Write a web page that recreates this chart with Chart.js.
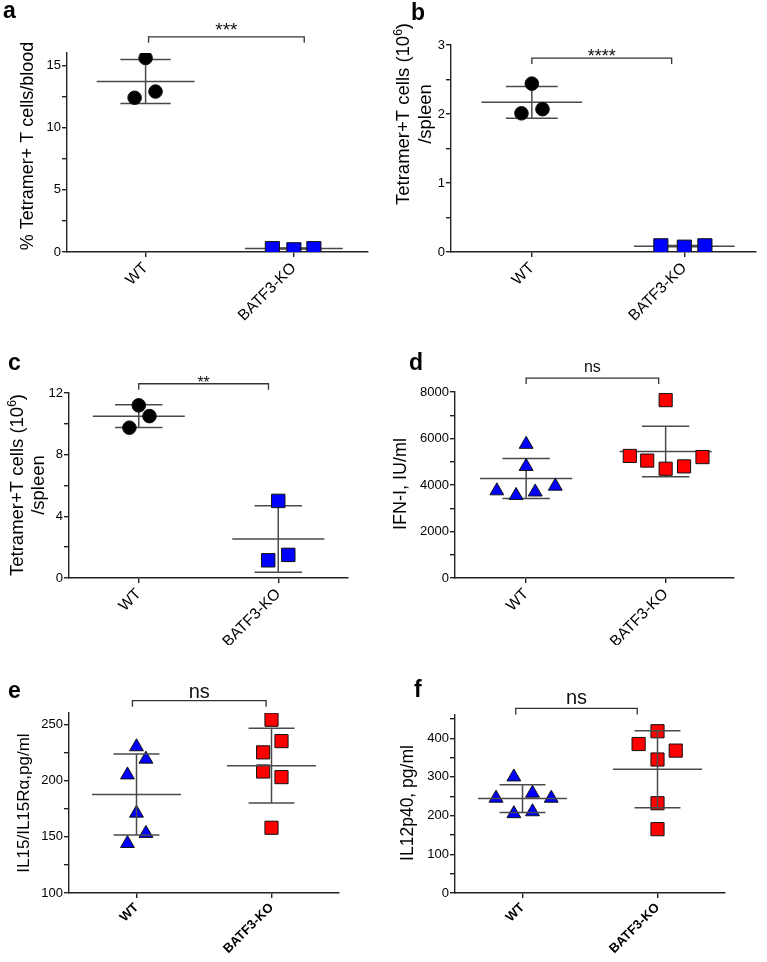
<!DOCTYPE html>
<html>
<head>
<meta charset="utf-8">
<script src="https://cdn.jsdelivr.net/npm/chart.js@4.4.0/dist/chart.umd.min.js"></script>
<style>
  body { margin: 0; background: #fff; }
  #wrap { position: relative; width: 767px; height: 962px; overflow: hidden; }
  canvas { position: absolute; }
</style>
</head>
<body>
<div id="wrap">
  <canvas id="pa" width="383" height="330" style="left:0px;top:0px"></canvas>
  <canvas id="pb" width="384" height="330" style="left:383px;top:0px"></canvas>
  <canvas id="pc" width="383" height="315" style="left:0px;top:330px"></canvas>
  <canvas id="pd" width="384" height="315" style="left:383px;top:330px"></canvas>
  <canvas id="pe" width="383" height="322" style="left:0px;top:640px"></canvas>
  <canvas id="pf" width="384" height="322" style="left:383px;top:640px"></canvas>
</div>
<script>
var groups = ['WT', 'BATF3-KO'];

// a: % tetramer+ T cells / blood
var aWT = [15.6, 12.4, 12.9];
var aWTjit = [0, -0.074, 0.067];
var aKO = [0.27, 0.18, 0.27];
var aKOjit = [-0.145, 0, 0.135];
var aMean = [13.7, 0.28];
var aSD = [1.77, 0.04];

// b: tetramer+ T cells (10^6) / spleen
var bWT = [2.44, 2.01, 2.07];
var bWTjit = [0, -0.068, 0.07];
var bKO = [0.09, 0.07, 0.09];
var bKOjit = [-0.154, 0, 0.135];
var bMean = [2.17, 0.085];
var bSD = [0.23, 0.01];

// c: tetramer+ T cells (10^6) / spleen
var cWT = [11.2, 10.5, 9.75];
var cWTjit = [0, 0.077, -0.067];
var cKO = [5.0, 1.15, 1.5];
var cKOjit = [0, -0.072, 0.072];
var cMean = [10.5, 2.53];
var cSD = [0.73, 2.15];

// d: IFN-I, IU/ml
var dWT = [5750, 4800, 3750, 3550, 3700, 3950];
var dWTjit = [0, 0, -0.21, -0.072, 0.065, 0.209];
var dKO = [7650, 5250, 5050, 4700, 4800, 5200];
var dKOjit = [0, -0.257, -0.132, 0, 0.132, 0.264];
var dMean = [4280, 5440];
var dSD = [865, 1090];

// e: IL15/IL15Ra, pg/ml
var eWT = [230, 219, 205, 171, 153, 144];
var eWTjit = [0, 0.07, -0.067, 0, 0.07, -0.067];
var eKO = [254, 235, 225, 208, 203, 158];
var eKOjit = [0, 0.074, -0.062, -0.062, 0.074, 0];
var eMean = [187.6, 213.2];
var eSD = [36, 33.2];

// f: IL12p40, pg/ml
var fWT = [300, 258, 245, 245, 205, 210];
var fWTjit = [-0.064, 0.074, -0.196, 0.213, -0.064, 0.074];
var fKO = [418, 385, 368, 345, 232, 165];
var fKOjit = [0, -0.14, 0.135, 0, 0, 0];
var fMean = [244, 320];
var fSD = [36, 99.5];

var FONT = "'Liberation Sans', Arial, Helvetica, sans-serif";
var AXIS = '#222';
var BAR = '#4a4a4a';

function pts(vals, jit, g) {
    return vals.map(function(v, i) { return { x: g + jit[i], y: v }; });
}

function line(ctx, x1, y1, x2, y2) {
    ctx.beginPath(); ctx.moveTo(x1, y1); ctx.lineTo(x2, y2); ctx.stroke();
}

function drawErrorBars(chart, o) {
    var ctx = chart.ctx, xs = chart.scales.x, ys = chart.scales.y;
    ctx.save();
    ctx.strokeStyle = BAR;
    ctx.lineWidth = 1.5;
    o.means.forEach(function(m, i) {
        var cx = xs.getPixelForValue(i);
        var hw = xs.getPixelForValue(i + 0.33) - cx;
        var sw = xs.getPixelForValue(i + 0.17) - cx;
        var ym = ys.getPixelForValue(m);
        var yt = ys.getPixelForValue(m + o.sds[i]);
        var yb = ys.getPixelForValue(m - o.sds[i]);
        line(ctx, cx, yt, cx, yb);
        line(ctx, cx - hw, ym, cx + hw, ym);
        line(ctx, cx - sw, yt, cx + sw, yt);
        line(ctx, cx - sw, yb, cx + sw, yb);
    });
    ctx.restore();
}

// error bars, significance bracket, panel letter and y title
var annot = {
    id: 'annot',
    beforeDatasetsDraw: function(chart, args, o) {
        if (!o.barsOnTop) drawErrorBars(chart, o);
    },
    afterDatasetsDraw: function(chart, args, o) {
        if (o.barsOnTop) drawErrorBars(chart, o);
    },
    afterDraw: function(chart, args, o) {
        var ctx = chart.ctx, xs = chart.scales.x, ys = chart.scales.y;
        ctx.save();
        // bracket
        var bx0 = xs.getPixelForValue(o.bracket[0]);
        var bx1 = xs.getPixelForValue(o.bracket[1]);
        var by = ys.getPixelForValue(o.bracketY);
        ctx.strokeStyle = '#333';
        ctx.lineWidth = 1.3;
        ctx.beginPath();
        ctx.moveTo(bx0, by + 6); ctx.lineTo(bx0, by); ctx.lineTo(bx1, by); ctx.lineTo(bx1, by + 6);
        ctx.stroke();
        ctx.fillStyle = '#111';
        ctx.font = o.sigSize + 'px ' + FONT;
        ctx.textAlign = 'center';
        ctx.textBaseline = 'alphabetic';
        ctx.fillText(o.sig, (bx0 + bx1) / 2, by + o.sigDy);
        // panel letter
        ctx.fillStyle = '#000';
        ctx.font = 'bold 23px ' + FONT;
        ctx.textAlign = 'left';
        ctx.fillText(o.letter, o.letterPos[0], o.letterPos[1]);
        // y title (rotated), lines are lists of [text, superscript]
        o.title.forEach(function(ln) {
            var size = o.titleSize, sub = size * 0.65;
            var w = 0;
            ln.parts.forEach(function(p) {
                ctx.font = (p[1] ? sub : size) + 'px ' + FONT;
                w += ctx.measureText(p[0]).width;
            });
            ctx.save();
            ctx.translate(ln.x, o.titleY);
            ctx.rotate(-Math.PI / 2);
            var x = -w / 2;
            ln.parts.forEach(function(p) {
                ctx.font = (p[1] ? sub : size) + 'px ' + FONT;
                ctx.fillText(p[0], x, p[1] ? -size * 0.38 : 0);
                x += ctx.measureText(p[0]).width;
            });
            ctx.restore();
        });
        ctx.restore();
    }
};

function makePanel(id, p) {
    var ctx = document.getElementById(id).getContext('2d');
    var boldX = !!p.boldX;
    return new Chart(ctx, {
        type: 'scatter',
        data: {
            datasets: [
                {
                    data: pts(p.wt, p.wtJit, 0),
                    pointStyle: p.wtStyle, pointRadius: p.wtRadius,
                    backgroundColor: p.wtColor, borderColor: '#111', borderWidth: 1
                },
                {
                    data: pts(p.ko, p.koJit, 1),
                    pointStyle: 'rect', pointRadius: p.koRadius,
                    backgroundColor: p.koColor, borderColor: '#111', borderWidth: 1
                }
            ]
        },
        options: {
            responsive: false,
            animation: false,
            layout: { padding: { top: p.padTop, right: p.padRight, left: 0, bottom: 0 } },
            plugins: {
                legend: { display: false },
                tooltip: { enabled: false },
                annot: {
                    means: p.means, sds: p.sds, barsOnTop: !!p.barsOnTop,
                    bracket: p.bracket, bracketY: p.bracketY,
                    sig: p.sig, sigSize: p.sigSize, sigDy: p.sigDy,
                    letter: p.letter, letterPos: p.letterPos,
                    title: p.title, titleY: p.titleY, titleSize: p.titleSize
                }
            },
            scales: {
                x: {
                    type: 'linear',
                    min: p.xRange[0], max: p.xRange[1],
                    afterBuildTicks: function(s) { s.ticks = [{ value: 0 }, { value: 1 }]; },
                    afterFit: function(s) { s.height = p.xH; },
                    border: { display: true, color: AXIS, width: 1.4 },
                    grid: { drawOnChartArea: false, drawTicks: true, tickLength: 5, color: AXIS, lineWidth: 1.4 },
                    ticks: {
                        autoSkip: false, minRotation: 45, maxRotation: 45, padding: 2,
                        color: '#000',
                        font: { family: FONT, size: boldX ? 13 : 15.5, weight: boldX ? 'bold' : 'normal' },
                        callback: function(v) { return groups[v]; }
                    }
                },
                y: {
                    min: p.yRange[0], max: p.yRange[1],
                    afterFit: function(s) { s.width = p.yW; },
                    border: { display: true, color: AXIS, width: 1.4 },
                    grid: { drawOnChartArea: false, drawTicks: true, tickLength: 5, color: AXIS, lineWidth: 1.4 },
                    ticks: {
                        stepSize: p.yStep, includeBounds: false, autoSkip: false, padding: 1,
                        color: '#000',
                        font: { family: FONT, size: 13 },
                        callback: function(v) {
                            var r = v / p.yLabel;
                            return Math.abs(r - Math.round(r)) < 1e-6 ? String(v) : '';
                        }
                    }
                }
            }
        }
    });
}

window.onload = function() {
    var tetTitle = [
        [['Tetramer+T cells (10', false], ['6', true], [')', false]],
        [['/spleen', false]]
    ];

    makePanel('pa', {
        wt: aWT, wtJit: aWTjit, ko: aKO, koJit: aKOjit, means: aMean, sds: aSD,
        wtStyle: 'circle', wtRadius: 6.8, wtColor: '#000', koRadius: 10, koColor: '#0000ff',
        xRange: [-0.53, 1.5], yRange: [0, 16], yStep: 2.5, yLabel: 5,
        yW: 67, xH: 78, padTop: 53, padRight: 15,
        bracket: [0.02, 1.07], bracketY: 17.3, sig: '***', sigSize: 19, sigDy: -1,
        letter: 'a', letterPos: [3, 18],
        title: [{ x: 33, parts: [['% Tetramer+ T cells/blood', false]] }], titleY: 146, titleSize: 18
    });

    makePanel('pb', {
        wt: bWT, wtJit: bWTjit, ko: bKO, koJit: bKOjit, means: bMean, sds: bSD,
        wtStyle: 'circle', wtRadius: 6.8, wtColor: '#000', koRadius: 10, koColor: '#0000ff',
        xRange: [-0.53, 1.47], yRange: [0, 3], yStep: 0.5, yLabel: 1,
        yW: 68, xH: 78, padTop: 45, padRight: 4,
        bracket: [0, 0.917], bracketY: 2.81, sig: '****', sigSize: 18, sigDy: 4,
        letter: 'b', letterPos: [28, 20],
        title: [{ x: 26, parts: tetTitle[0] }, { x: 48, parts: tetTitle[1] }],
        titleY: 114, titleSize: 18.5
    });

    makePanel('pc', {
        wt: cWT, wtJit: cWTjit, ko: cKO, koJit: cKOjit, means: cMean, sds: cSD,
        wtStyle: 'circle', wtRadius: 6.8, wtColor: '#000', koRadius: 9.5, koColor: '#0000ff',
        xRange: [-0.5, 1.5], yRange: [0, 12], yStep: 2, yLabel: 4,
        yW: 69, xH: 67, padTop: 63, padRight: 35,
        bracket: [0, 0.93], bracketY: 12.6, sig: '**', sigSize: 16, sigDy: 4,
        letter: 'c', letterPos: [8, 40],
        title: [{ x: 23, parts: tetTitle[0] }, { x: 44, parts: tetTitle[1] }],
        titleY: 155, titleSize: 18.5
    });

    makePanel('pd', {
        wt: dWT, wtJit: dWTjit, ko: dKO, koJit: dKOjit, means: dMean, sds: dSD,
        wtStyle: 'triangle', wtRadius: 8, wtColor: '#0000ff', koRadius: 9.3, koColor: '#ff0000',
        xRange: [-0.51, 1.49], yRange: [0, 8000], yStep: 1000, yLabel: 2000,
        yW: 72, xH: 67, padTop: 62, padRight: 33,
        bracket: [0, 0.95], bracketY: 8600, sig: 'ns', sigSize: 16, sigDy: -6,
        letter: 'd', letterPos: [26, 40],
        title: [{ x: 23, parts: [['IFN-I, IU/ml', false]] }], titleY: 154, titleSize: 18
    });

    makePanel('pe', {
        wt: eWT, wtJit: eWTjit, ko: eKO, koJit: eKOjit, means: eMean, sds: eSD,
        wtStyle: 'triangle', wtRadius: 8, wtColor: '#0000ff', koRadius: 9.3, koColor: '#ff0000',
        xRange: [-0.5, 1.5], yRange: [100, 260], yStep: 25, yLabel: 50,
        yW: 69, xH: 69, padTop: 73, padRight: 44, boldX: true, barsOnTop: true,
        bracket: [-0.03, 0.96], bracketY: 271, sig: 'ns', sigSize: 20, sigDy: -3,
        letter: 'e', letterPos: [8, 58],
        title: [{ x: 29, parts: [['IL15/IL15R\u03b1,pg/ml', false]] }], titleY: 163, titleSize: 17
    });

    makePanel('pf', {
        wt: fWT, wtJit: fWTjit, ko: fKO, koJit: fKOjit, means: fMean, sds: fSD,
        wtStyle: 'triangle', wtRadius: 8, wtColor: '#0000ff', koRadius: 9.3, koColor: '#ff0000',
        xRange: [-0.5, 1.5], yRange: [0, 460], yStep: 50, yLabel: 100,
        yW: 72, xH: 69, padTop: 75, padRight: 42, boldX: true, barsOnTop: true,
        bracket: [-0.05, 0.85], bracketY: 477, sig: 'ns', sigSize: 20, sigDy: -4,
        letter: 'f', letterPos: [31, 57],
        title: [{ x: 30, parts: [['IL12p40, pg/ml', false]] }], titleY: 163, titleSize: 17.5
    });
};

Chart.register(annot);
</script>
</body>
</html>
